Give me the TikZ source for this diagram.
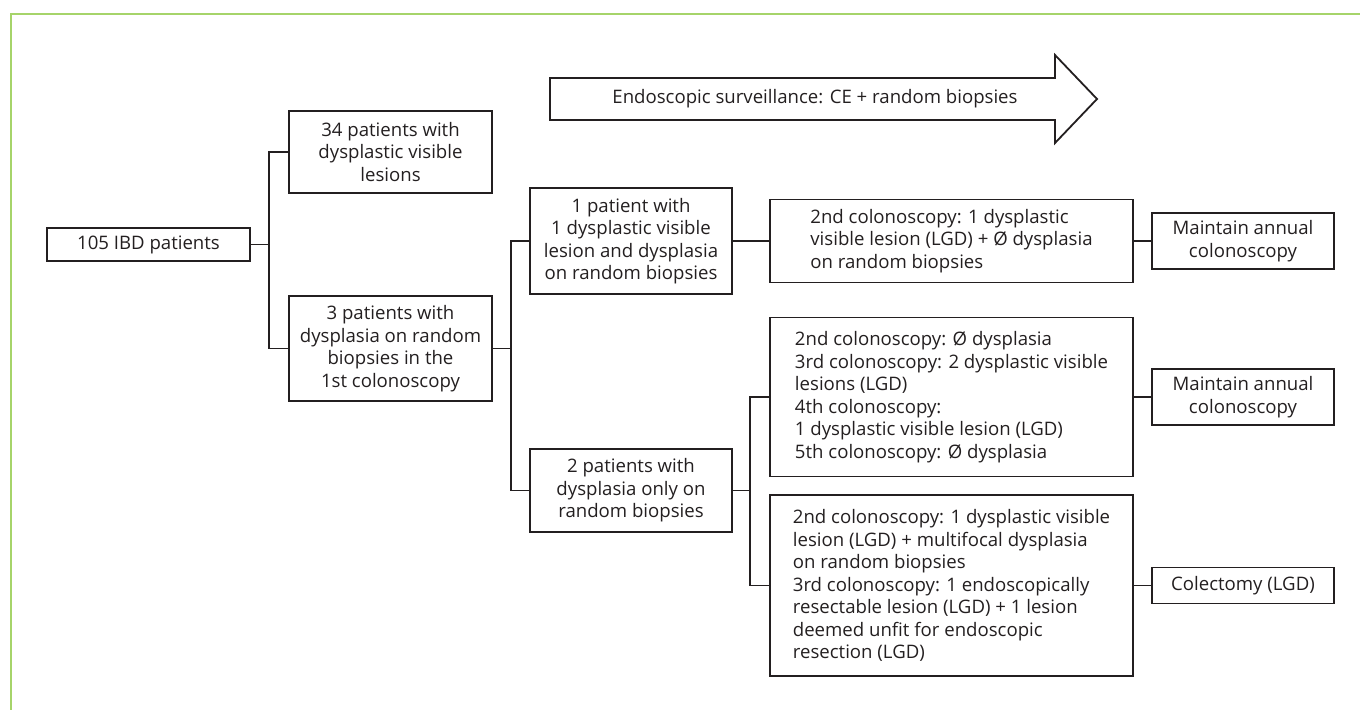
\documentclass[tikz,border=0pt]{standalone}
\usepackage{fontspec}
\setmainfont{Open Sans}
\definecolor{framegreen}{RGB}{166,212,106}
\definecolor{ink}{RGB}{35,31,32}
\begin{document}
\begin{tikzpicture}[x=1pt,y=-1pt,
    font=\fontsize{18.6}{22.5}\selectfont, text=ink,
    box/.style={draw=ink, line width=1.8pt, align=center, inner sep=0pt},
    longbox/.style={draw=ink, line width=1.8pt, align=left, inner sep=0pt, minimum width=363pt},
    endbox/.style={draw=ink, line width=1.8pt, align=center, inner sep=0pt, minimum width=182pt},
    link/.style={draw=ink, line width=1.8pt}]
    \useasboundingbox (0,0) rectangle (1360,710);
    % frame
    \draw[framegreen, line width=2pt] (1360,14) -- (11,14) -- (11,710);

    % surveillance arrow
    \draw[link, line join=miter] (550,78) -- (1055,78) -- (1055,55) -- (1097,99)
        -- (1055,143) -- (1055,120) -- (550,120) -- cycle;
    \node (surv) at (815,99) {Endoscopic surveillance: CE + random biopsies};

    % first level
    \node[box, minimum width=203pt, minimum height=33pt] (ibd) at (148.5,244.5) {105 IBD patients};
    \node[box, minimum width=203pt, minimum height=82pt] (vis) at (390.5,152) {34 patients with\\dysplastic visible\\lesions};
    \node[box, minimum width=203pt, minimum height=105pt] (rnd) at (390.5,348.5) {3 patients with\\dysplasia on random\\biopsies in the\\1st colonoscopy};

    % second level
    \node[box, minimum width=202pt, minimum height=106pt] (one) at (631,241) {1 patient with\\1 dysplastic visible\\lesion and dysplasia\\on random biopsies};
    \node[box, minimum width=202pt, minimum height=83pt] (two) at (631,490.5) {2 patients with\\dysplasia only on\\random biopsies};

    % follow-up colonoscopies
    \node[longbox, minimum height=83pt] (secA) at (951.5,241) {2nd colonoscopy: 1 dysplastic\\visible lesion (LGD) + Ø dysplasia\\on random biopsies};
    \node[longbox, minimum height=159pt] (secB) at (951.5,397) {2nd colonoscopy: Ø dysplasia\\3rd colonoscopy: 2 dysplastic visible\\lesions (LGD)\\4th colonoscopy:\\1 dysplastic visible lesion (LGD)\\5th colonoscopy: Ø dysplasia};
    \node[longbox, minimum height=181pt] (secC) at (951.5,585.5) {2nd colonoscopy: 1 dysplastic visible\\lesion (LGD) + multifocal dysplasia\\on random biopsies\\3rd colonoscopy: 1 endoscopically\\resectable lesion (LGD) + 1 lesion\\deemed unfit for endoscopic\\resection (LGD)};

    % outcomes
    \node[endbox, minimum height=56pt] (annA) at (1243,241) {Maintain annual\\colonoscopy};
    \node[endbox, minimum height=56pt] (annB) at (1243,397) {Maintain annual\\colonoscopy};
    \node[endbox, minimum height=36pt] (colect) at (1243,585.5) {Colectomy (LGD)};

    % branch points
    \coordinate (b1) at (269,244.5);
    \coordinate (b2) at (511,348.5);
    \coordinate (b3) at (750,490.5);

    \draw[link] (ibd.east) -- (b1);
    \draw[link] (vis.west) -| (b1) |- (rnd.west);
    \draw[link] (rnd.east) -- (b2);
    \draw[link] (one.west) -| (b2) |- (two.west);
    \draw[link] (two.east) -- (b3);
    \draw[link] (secB.west) -| (b3) |- (secC.west);
    \draw[link] (one.east) -- (secA.west);
    \draw[link] (secA.east) -- (annA.west);
    \draw[link] (secB.east) -- (annB.west);
    \draw[link] (secC.east) -- (colect.west);
\end{tikzpicture}
\end{document}
